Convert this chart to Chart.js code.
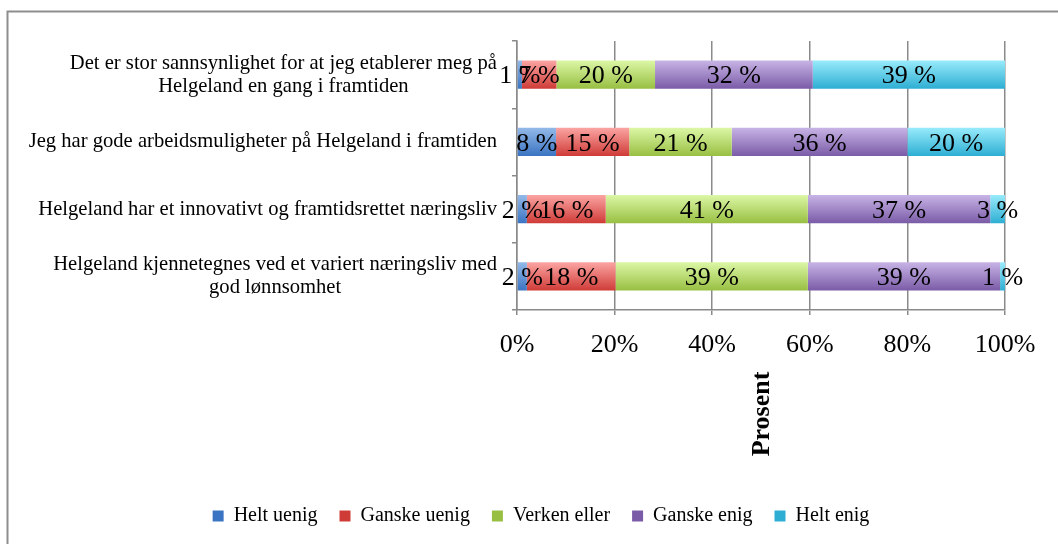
<!DOCTYPE html>
<html>
<head>
<meta charset="utf-8">
<script src="https://cdn.jsdelivr.net/npm/chart.js@4.4.1/dist/chart.umd.min.js"></script>
<style>
    body { margin: 0; background: #fff; }
    #div_chart { width: 1058px; height: 544px; }
</style>
</head>
<body>
<div id="div_chart"><canvas id="chart" width="1058" height="544"></canvas></div>
<script>
const categories = [
    ["Det er stor sannsynlighet for at jeg etablerer meg på", "Helgeland en gang i framtiden"],
    ["Jeg har gode arbeidsmuligheter på Helgeland i framtiden"],
    ["Helgeland har et innovativt og framtidsrettet næringsliv"],
    ["Helgeland kjennetegnes ved et variert næringsliv med", "god lønnsomhet"],
];

const seriesNames = ["Helt uenig", "Ganske uenig", "Verken eller", "Ganske enig", "Helt enig"];

// values per series, one per category (percent as shown in the labels)
const heltUenig = [1, 8, 2, 2];
const ganskeUenig = [7, 15, 16, 18];
const verkenEller = [20, 21, 41, 39];
const ganskeEnig = [32, 36, 37, 39];
const heltEnig = [39, 20, 3, 1];

const xTicks = [0, 20, 40, 60, 80, 100];
const axisTitle = "Prosent";

const seriesValues = [heltUenig, ganskeUenig, verkenEller, ganskeEnig, heltEnig];

// top / bottom gradient colors (excel 2007 look)
const seriesColors = [
    ["#93b9e8", "#3b74c2"],
    ["#fba5a3", "#cf3b37"],
    ["#dcf7a6", "#98bf42"],
    ["#c8b4e6", "#7a5ba7"],
    ["#98ebfb", "#2eaed3"],
];

const BAR_PCT = 0.42;
const FONT = "'Liberation Serif', 'Times New Roman', serif";
const GRID = "#8a8a8a";

// row totals so that every bar fills 100 %
const rowTotals = categories.map((_, i) => seriesValues.reduce((s, arr) => s + arr[i], 0));

function gradientFill(top, bottom) {
    return (ctx) => {
        const chart = ctx.chart;
        const y = chart.scales.y;
        if (ctx.type !== "data" || !chart.chartArea || !y) {
            return bottom;
        }
        const c = y.getPixelForValue(ctx.dataIndex);
        const half = (y.height / categories.length) * BAR_PCT / 2;
        const g = chart.ctx.createLinearGradient(0, c - half, 0, c + half);
        g.addColorStop(0, top);
        g.addColorStop(1, bottom);
        return g;
    };
}

const frame = {
    id: "frame",
    beforeDraw(chart) {
        const c = chart.ctx;
        c.save();
        c.fillStyle = "#fff";
        c.fillRect(0, 0, chart.width, chart.height);
        c.strokeStyle = "#8e8e8e";
        c.lineWidth = 2;
        c.beginPath();
        c.moveTo(7.5, chart.height);
        c.lineTo(7.5, 11.5);
        c.lineTo(chart.width, 11.5);
        c.stroke();
        c.restore();
    },
};

// category labels: block right aligned, lines centered inside the block
const categoryLabels = {
    id: "categoryLabels",
    afterDraw(chart) {
        const c = chart.ctx;
        const y = chart.scales.y;
        const right = chart.chartArea.left - 20;
        const lineH = 23;
        c.save();
        c.font = "20.6px " + FONT;
        c.fillStyle = "#000";
        c.textAlign = "center";
        c.textBaseline = "middle";
        categories.forEach((lines, i) => {
            const w = Math.max(...lines.map((l) => c.measureText(l).width));
            const cx = right - w / 2;
            const cy = y.getPixelForValue(i);
            lines.forEach((l, k) => {
                c.fillText(l, cx, cy + (k - (lines.length - 1) / 2) * lineH);
            });
        });
        // rotated axis title
        c.font = "bold 26px " + FONT;
        c.translate(762, 414);
        c.rotate(-Math.PI / 2);
        c.fillText(axisTitle, 0, 0);
        c.restore();
    },
};

const valueLabels = {
    id: "valueLabels",
    afterDatasetsDraw(chart) {
        const c = chart.ctx;
        c.save();
        c.font = "26px " + FONT;
        c.fillStyle = "#000";
        c.textAlign = "center";
        c.textBaseline = "middle";
        chart.data.datasets.forEach((ds, di) => {
            chart.getDatasetMeta(di).data.forEach((bar, i) => {
                const x = (bar.x + bar.base) / 2;
                c.fillText(seriesValues[di][i] + " %", x, bar.y + 2);
            });
        });
        c.restore();
    },
};

const datasets = seriesNames.map((name, di) => ({
    label: name,
    data: seriesValues[di].map((v, i) => v / rowTotals[i] * 100),
    backgroundColor: gradientFill(seriesColors[di][0], seriesColors[di][1]),
    borderWidth: 0,
    categoryPercentage: 1,
    barPercentage: BAR_PCT,
}));

const PAD = { top: 41, left: 77, right: 53, bottom: 8 };

new Chart(document.getElementById("chart"), {
    type: "bar",
    data: { labels: categories, datasets },
    plugins: [frame, categoryLabels, valueLabels],
    options: {
        indexAxis: "y",
        responsive: false,
        animation: false,
        layout: { padding: PAD },
        plugins: {
            tooltip: { enabled: false },
            legend: {
                position: "bottom",
                labels: {
                    boxWidth: 11,
                    boxHeight: 11,
                    padding: 22,
                    color: "#000",
                    font: { family: FONT, size: 20 },
                },
            },
        },
        scales: {
            x: {
                stacked: true,
                min: 0,
                max: 100,
                afterBuildTicks(scale) {
                    scale.ticks = xTicks.map((v) => ({ value: v }));
                },
                afterFit(scale) {
                    const legendH = scale.chart.legend ? scale.chart.legend.height : 0;
                    scale.height = scale.chart.height - 310 - legendH - PAD.bottom;
                },
                grid: { color: GRID, lineWidth: 1.5, tickLength: 5 },
                border: { color: GRID, width: 1.5 },
                ticks: {
                    color: "#000",
                    padding: 15,
                    maxRotation: 0,
                    font: { family: FONT, size: 26 },
                    callback: (v) => v + "%",
                },
            },
            y: {
                stacked: true,
                afterFit(scale) {
                    scale.width = 517 - PAD.left;
                },
                grid: { color: GRID, lineWidth: 1.5, drawOnChartArea: false, tickLength: 5, offset: true },
                border: { color: GRID, width: 1.5 },
                ticks: { display: false },
            },
        },
    },
});
</script>
</body>
</html>
